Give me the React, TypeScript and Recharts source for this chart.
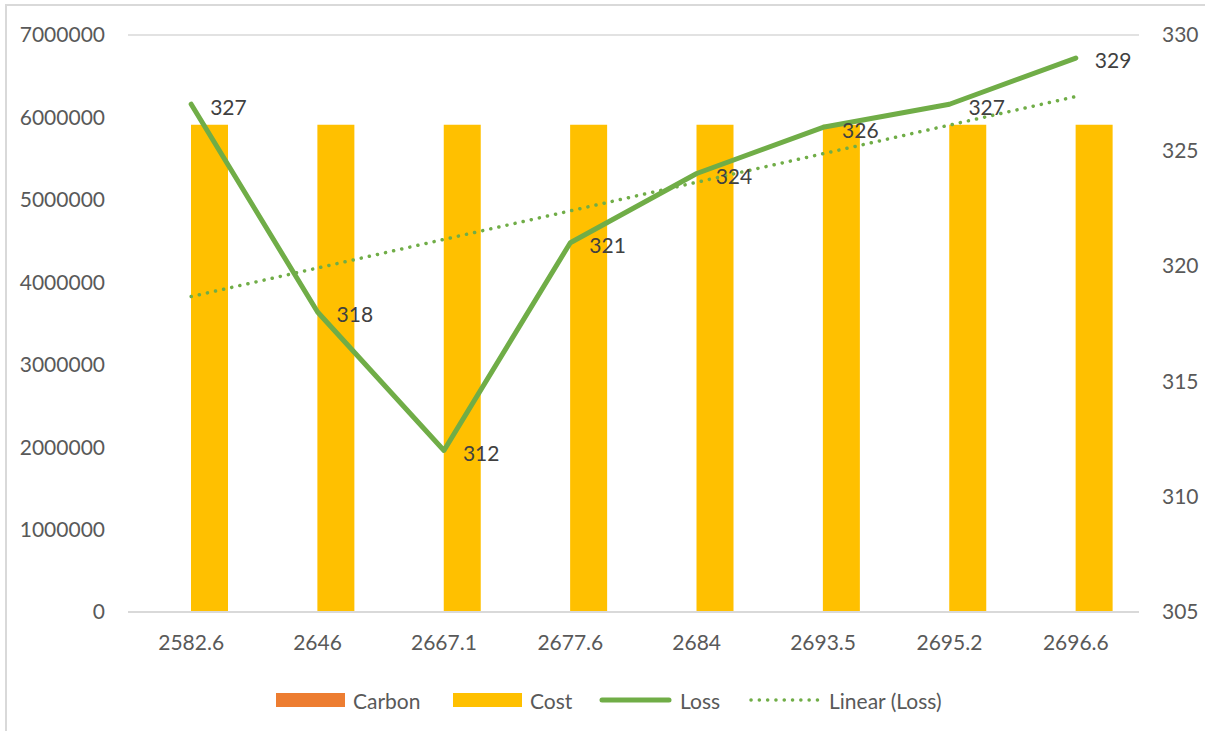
import React from 'react';
import {
  ComposedChart,
  Bar,
  Line,
  XAxis,
  YAxis,
  CartesianGrid,
} from 'recharts';

const categories = ['2582.6', '2646', '2667.1', '2677.6', '2684', '2693.5', '2695.2', '2696.6'];
const carbonValues = [2582.6, 2646, 2667.1, 2677.6, 2684, 2693.5, 2695.2, 2696.6];
const costValues = [5910000, 5910000, 5910000, 5910000, 5910000, 5910000, 5910000, 5910000];
const lossValues = [327, 318, 312, 321, 324, 326, 327, 329];

const costTicks = [0, 1000000, 2000000, 3000000, 4000000, 5000000, 6000000, 7000000];
const lossTicks = [305, 310, 315, 320, 325, 330];

const FONT = 'Lato, "Open Sans", sans-serif';
const FONT_SIZE = 21;
const GREEN = '#70ad47';
const AXIS_TEXT = '#595959';

// least-squares fit of Loss over the category index (Excel's linear trendline)
const n = lossValues.length;
const xs = lossValues.map((_, i) => i + 1);
const meanX = xs.reduce((a, b) => a + b, 0) / n;
const meanY = lossValues.reduce((a, b) => a + b, 0) / n;
const slope =
  xs.reduce((s, x, i) => s + (x - meanX) * (lossValues[i] - meanY), 0) /
  xs.reduce((s, x) => s + (x - meanX) ** 2, 0);
const intercept = meanY - slope * meanX;

const chartData = categories.map((name, i) => ({
  name,
  carbon: carbonValues[i],
  cost: costValues[i],
  loss: lossValues[i],
  trend: intercept + slope * (i + 1),
}));

const renderLossLabel = (props: any) => {
  const { x, y, value } = props;
  return (
    <text
      x={x + 19}
      y={y + 5}
      fill="#404040"
      fontSize={FONT_SIZE}
      fontFamily={FONT}
      dominantBaseline="middle"
    >
      {value}
    </text>
  );
};

const legendItems = [
  { label: 'Carbon', kind: 'box', color: '#ed7d31', left: 276 },
  { label: 'Cost', kind: 'box', color: '#ffc000', left: 453 },
  { label: 'Loss', kind: 'line', color: GREEN, left: 599 },
  { label: 'Linear (Loss)', kind: 'dots', color: GREEN, left: 748 },
];

const LegendSwatch = ({ kind, color }: { kind: string; color: string }) => {
  if (kind === 'box') {
    return <div style={{ width: 69, height: 14, background: color }} />;
  }
  return (
    <svg width={73} height={14} style={{ display: 'block' }}>
      <line
        x1={3}
        y1={7}
        x2={70}
        y2={7}
        stroke={color}
        strokeWidth={kind === 'line' ? 5 : 3.5}
        strokeLinecap="round"
        strokeDasharray={kind === 'dots' ? '0.1 8.2' : undefined}
      />
    </svg>
  );
};

export default function App() {
  return (
    <div
      style={{
        position: 'fixed',
        left: 0,
        top: 0,
        width: 1205,
        height: 731,
        overflow: 'hidden',
        background: '#fff',
        fontFamily: FONT,
      }}
    >
      <div
        style={{
          position: 'absolute',
          left: 5,
          top: 4,
          width: 1230,
          height: 760,
          border: '2px solid #d9d9d9',
        }}
      />
      <div style={{ position: 'absolute', left: 0, top: 0 }}>
        <ComposedChart
          width={1205}
          height={731}
          data={chartData}
          margin={{ top: 35, right: 0, bottom: 0, left: 0 }}
          barGap={0}
        >
          <CartesianGrid vertical={false} stroke="#d9d9d9" strokeWidth={1.5} />
          <XAxis
            dataKey="name"
            height={119}
            axisLine={{ stroke: '#d9d9d9', strokeWidth: 2 }}
            tickLine={false}
            tickSize={0}
            tickMargin={23}
            tick={{ fill: AXIS_TEXT, fontSize: FONT_SIZE, fontFamily: FONT }}
            interval={0}
          />
          <YAxis
            yAxisId="left"
            width={128}
            domain={[0, 7000000]}
            ticks={costTicks}
            axisLine={false}
            tickLine={false}
            tickSize={0}
            tickMargin={23}
            tick={{ fill: AXIS_TEXT, fontSize: FONT_SIZE, fontFamily: FONT }}
          />
          <YAxis
            yAxisId="right"
            orientation="right"
            width={66}
            domain={[305, 330]}
            ticks={lossTicks}
            axisLine={false}
            tickLine={false}
            tickSize={0}
            tickMargin={23}
            tick={{ fill: AXIS_TEXT, fontSize: FONT_SIZE, fontFamily: FONT, textAnchor: 'start' }}
          />
          <Bar yAxisId="left" dataKey="carbon" fill="#ed7d31" barSize={37} isAnimationActive={false} />
          <Bar yAxisId="left" dataKey="cost" fill="#ffc000" barSize={37} isAnimationActive={false} />
          <Line
            yAxisId="right"
            dataKey="trend"
            stroke={GREEN}
            strokeWidth={3.5}
            strokeDasharray="0.1 8.2"
            strokeLinecap="round"
            dot={false}
            activeDot={false}
            isAnimationActive={false}
          />
          <Line
            yAxisId="right"
            dataKey="loss"
            type="linear"
            stroke={GREEN}
            strokeWidth={5}
            strokeLinecap="round"
            strokeLinejoin="round"
            dot={false}
            activeDot={false}
            label={renderLossLabel}
            isAnimationActive={false}
          />
        </ComposedChart>
      </div>
      {legendItems.map((item) => (
        <div
          key={item.label}
          style={{
            position: 'absolute',
            left: item.left,
            top: 686,
            height: 28,
            display: 'flex',
            alignItems: 'center',
            fontSize: FONT_SIZE,
            color: AXIS_TEXT,
            whiteSpace: 'nowrap',
          }}
        >
          <LegendSwatch kind={item.kind} color={item.color} />
          <span style={{ marginLeft: 8 }}>{item.label}</span>
        </div>
      ))}
    </div>
  );
}
